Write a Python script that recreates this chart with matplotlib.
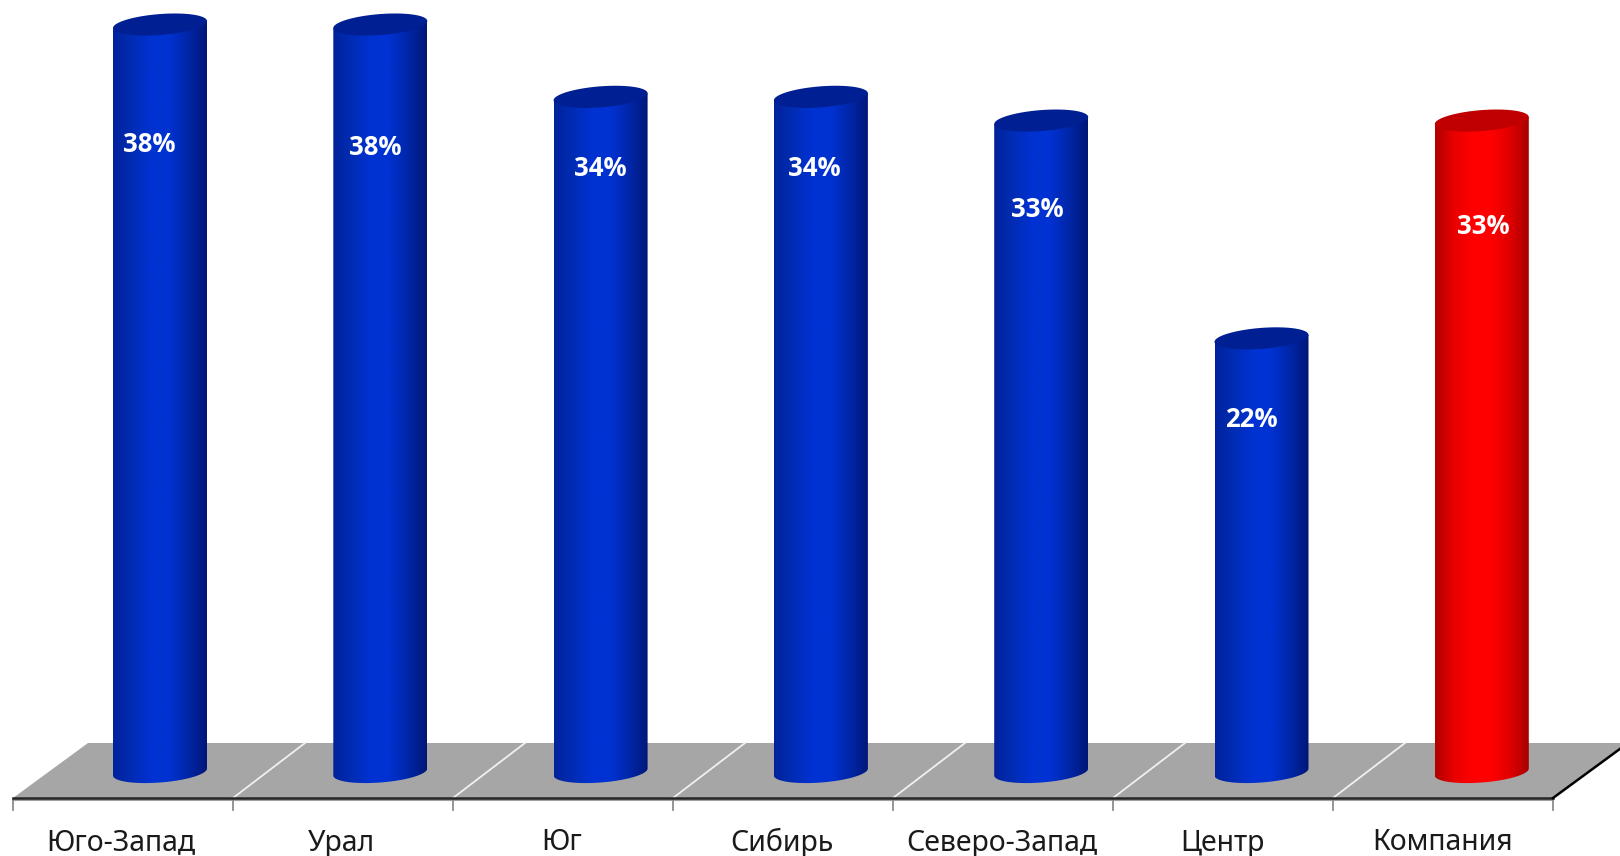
import numpy as np
import matplotlib
matplotlib.use('Agg')
import matplotlib.pyplot as plt
from matplotlib.colors import LinearSegmentedColormap
from matplotlib.patches import Polygon
from matplotlib.transforms import Affine2D

# values
regions = ['Юго-Запад', 'Урал', 'Юг', 'Сибирь', 'Северо-Запад', 'Центр', 'Компания']
values = [37.75, 37.75, 34.1, 34.1, 32.9, 21.9, 32.9]
labels = ['38%', '38%', '34%', '34%', '33%', '22%', '33%']
label_dx = [-11, -5, 0, -7, -4, -10, 2]
label_dy = [120, 123, 72, 72, 89, 81, 106]

W, H = 1620, 856
sx, sy = 220.3, 19.8  # px per category, px per percent
x0_px, y0_px = 160, 772

blue_map = LinearSegmentedColormap.from_list('b', ['#00239c', '#002cb4', '#0032d2', '#0032d2', '#0026a8', '#001778'])
red_map = LinearSegmentedColormap.from_list('r', ['#b00000', '#e80000', '#ff0000', '#ff0000', '#e00000', '#a80000'])

fig = plt.figure(figsize=(W / 100, H / 100), dpi=100)
ax = fig.add_axes([0, 0, 1, 1])
ax.axis('off')

# pixel transform for the floor, y going down like in the picture
px = Affine2D().scale(1, -1).translate(0, H)
ax.add_patch(Polygon([(13, 798), (88, 743), (1628, 743), (1553, 798)], closed=True,
                     fc='#a6a6a6', ec='none', transform=px, zorder=1))
ticks = [13 + 220 * i for i in range(8)]
for t in ticks[1:-1]:
    ax.plot([t, t + 72], [798, 743], color='#f0f0f0', lw=1.3, transform=px, zorder=2)
ax.plot([13, 1553], [800, 800], color='#a0a0a0', lw=1.5, transform=px, zorder=2)
ax.plot([13, 1553], [798, 798], color='#262626', lw=1.8, transform=px, zorder=3)
ax.plot([1553, 1628], [798, 743], color='black', lw=1.8, transform=px, zorder=3)
for t in ticks:
    ax.plot([t, t], [799, 810], color='#8c8c8c', lw=1.3, transform=px, zorder=2)

# cylinder geometry, in data units
a = 47 / sx
b = 10.5 / sy
k = 3.5 / sy
t_front = np.linspace(np.pi, 2 * np.pi, 60)
t_all = np.linspace(0, 2 * np.pi, 120)

for i, v in enumerate(values):
    cmap = red_map if regions[i] == 'Компания' else blue_map
    top_col = '#c00000' if regions[i] == 'Компания' else '#001f92'
    # side of the cylinder: gradient clipped to its outline
    bx = i + a * np.cos(t_front)
    by = 0 + b * np.sin(t_front) + k * np.cos(t_front)
    side = np.column_stack([np.r_[i - a, bx, i + a], np.r_[v - k, by, v + k]])
    im = ax.imshow(np.linspace(0, 1, 128).reshape(1, -1), cmap=cmap, aspect='auto',
                   extent=[i - a, i + a, -2, v + 2], zorder=4)
    clip = Polygon(side, closed=True, transform=ax.transData)
    im.set_clip_path(clip)
    # top ellipse
    tx = i + a * np.cos(t_all)
    ty = v + b * np.sin(t_all) + k * np.cos(t_all)
    ax.fill(tx, ty, color=top_col, lw=0, zorder=5)
    ax.annotate(labels[i], (i, v), xytext=(label_dx[i], -label_dy[i]), textcoords='offset pixels',
                ha='center', va='center', color='white', fontsize=18.5, fontweight='bold',
                family='Open Sans', zorder=6)
    ax.annotate(regions[i], (i, 0), xytext=(-39, -71), textcoords='offset pixels',
                ha='center', va='center', color='#1a1a1a', fontsize=20.5,
                family='Noto Sans', zorder=6, annotation_clip=False)

ax.set_xlim(-x0_px / sx, (W - x0_px) / sx)
ax.set_ylim(-(H - y0_px) / sy, y0_px / sy)

fig.savefig('out.png', dpi=100, facecolor='white')
